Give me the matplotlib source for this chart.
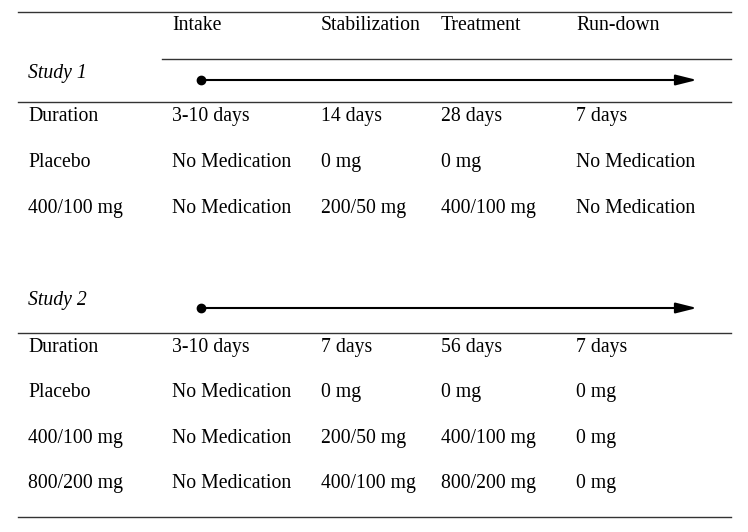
import matplotlib
matplotlib.use("Agg")
import matplotlib.pyplot as plt

phases = ["Intake", "Stabilization", "Treatment", "Run-down"]
study1_rows = ["Duration", "Placebo", "400/100 mg"]
study1_values = [
    ["3-10 days", "14 days", "28 days", "7 days"],
    ["No Medication", "0 mg", "0 mg", "No Medication"],
    ["No Medication", "200/50 mg", "400/100 mg", "No Medication"],
]
study2_rows = ["Duration", "Placebo", "400/100 mg", "800/200 mg"]
study2_values = [
    ["3-10 days", "7 days", "56 days", "7 days"],
    ["No Medication", "0 mg", "0 mg", "0 mg"],
    ["No Medication", "200/50 mg", "400/100 mg", "0 mg"],
    ["No Medication", "400/100 mg", "800/200 mg", "0 mg"],
]
study_titles = ["Study 1", "Study 2"]

plt.rcParams['font.family'] = ['Liberation Serif', 'DejaVu Serif']
fs = 14.2

fig = plt.figure(figsize=(7.48, 5.32), dpi=100)
ax = fig.add_axes([0, 0, 1, 1])
ax.set_xlim(0, 748)
ax.set_ylim(532, 0)
ax.axis('off')

col_x = [172, 321, 441, 576]
label_x = 28
lc = '#333333'

# horizontal rules
ax.plot([18, 731], [12, 12], color=lc, lw=1)
ax.plot([162, 731], [59, 59], color=lc, lw=1)
ax.plot([18, 731], [102, 102], color=lc, lw=1)
ax.plot([18, 731], [333, 333], color=lc, lw=1)
ax.plot([18, 731], [517, 517], color=lc, lw=1)

# header
for x, p in zip(col_x, phases):
    ax.text(x, 30, p, fontsize=fs, va='baseline', ha='left')

def draw_study(title, ty, ay, rows, vals, y0, dy):
    ax.text(label_x, ty, title, fontsize=fs, va='baseline', ha='left', style='italic')
    ax.annotate('', xy=(697, ay), xytext=(201, ay),
                arrowprops=dict(arrowstyle='-|>,head_length=0.8,head_width=0.2',
                                color='black', lw=1.5,
                                mutation_scale=16, shrinkA=0, shrinkB=0))
    ax.plot([201], [ay], 'o', color='black', ms=6)
    for i, (r, v) in enumerate(zip(rows, vals)):
        y = y0 + i * dy
        ax.text(label_x, y, r, fontsize=fs, va='baseline', ha='left')
        for x, t in zip(col_x, v):
            ax.text(x, y, t, fontsize=fs, va='baseline', ha='left')

draw_study(study_titles[0], 78, 80, study1_rows, study1_values, 121, 45.8)
draw_study(study_titles[1], 305, 308, study2_rows, study2_values, 352, 45.3)

fig.savefig('out.png', dpi=100)
